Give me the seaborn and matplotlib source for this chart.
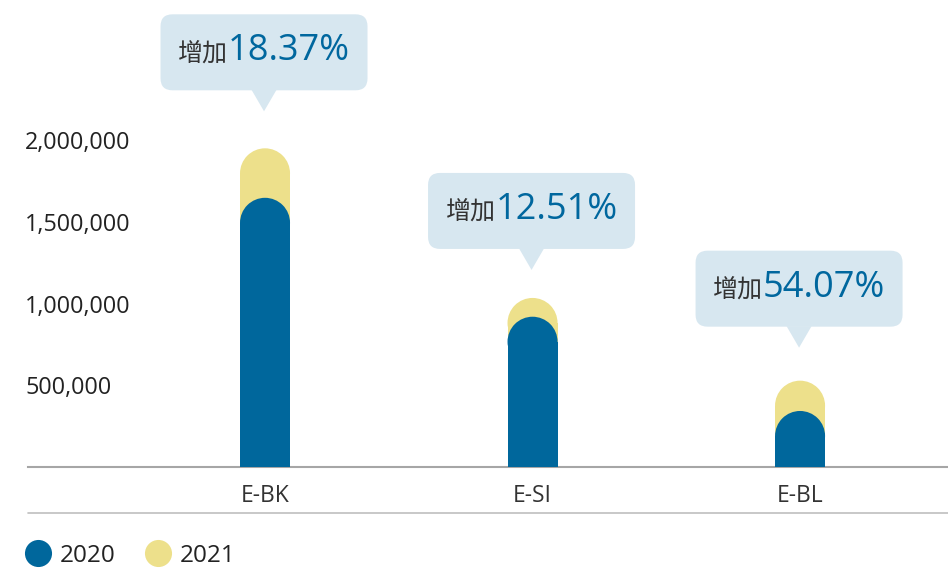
import matplotlib
matplotlib.use("Agg")
import matplotlib.pyplot as plt
import seaborn as sns
import pandas as pd
import numpy as np
from matplotlib.patches import Ellipse, FancyBboxPatch, Polygon
from matplotlib.lines import Line2D
from matplotlib.ticker import FuncFormatter

# ---- data ----
categories = ["E-BK", "E-SI", "E-BL"]
values_2020 = [1648000, 920000, 343000]
values_2021 = [1951000, 1035000, 528500]
increase_labels = ["18.37%", "12.51%", "54.07%"]
years = ["2020", "2021"]
yticks = [500000, 1000000, 1500000, 2000000]

# ---- style ----
BLUE = "#00679c"
YELLOW = "#ede08b"
BUBBLE = "#d7e7f0"
TXT = "#333333"
PCT = "#00679e"
LATIN = ["Open Sans", "DejaVu Sans"]
CJK = ["Noto Sans CJK SC", "DejaVu Sans"]

sns.set_theme(style="white")
plt.rcParams["font.family"] = ["Open Sans", "Noto Sans CJK SC", "DejaVu Sans"]

W, H = 948, 569
fig = plt.figure(figsize=(W / 100, H / 100), dpi=100)
ax = fig.add_axes([28 / W, 102 / H, 920 / W, 467 / H])

df = pd.DataFrame({
    "cat": categories * 2,
    "year": ["2021"] * 3 + ["2020"] * 3,
    "value": values_2021 + values_2020,
})
sns.barplot(data=df, x="cat", y="value", hue="year", hue_order=["2021", "2020"],
            palette={"2020": BLUE, "2021": YELLOW}, dodge=False, width=0.187,
            order=categories, ax=ax, legend=False, saturation=1, edgecolor="none",
            linewidth=0)

ax.set_xlim(-0.886, 2.553)
ax.set_ylim(0, 2859000)
ax.set_xlabel("")
ax.set_ylabel("")
for s in ["top", "right", "left"]:
    ax.spines[s].set_visible(False)
ax.spines["bottom"].set_color("#a6a6a6")
ax.spines["bottom"].set_linewidth(1.5)
ax.set_yticks(yticks)
ax.yaxis.set_major_formatter(FuncFormatter(lambda v, p: f"{int(v):,}"))
ax.tick_params(axis="y", length=0, pad=2.2, labelsize=16.8, labelcolor="#222222")
for lab in ax.get_yticklabels():
    lab.set_horizontalalignment("left")
    lab.set_fontfamily(LATIN)
ax.tick_params(axis="x", length=0, pad=12, labelsize=16.5, labelcolor=TXT)
for lab in ax.get_xticklabels():
    lab.set_fontfamily(LATIN)
ax.grid(False)

# ---- rounded tops: semicircle cap of radius = half bar width (in pixels) ----
fig.canvas.draw()
px_per_y = ax.transData.transform((0, 1e6))[1] - ax.transData.transform((0, 0))[1]
bars = list(ax.patches)
for p in bars:
    x0, w, h = p.get_x(), p.get_width(), p.get_height()
    w_px = ax.transData.transform((w, 0))[0] - ax.transData.transform((0, 0))[0]
    r_y = (w_px / 2) / px_per_y * 1e6
    p.set_height(h - r_y)
    e = Ellipse((x0 + w / 2, h - r_y), w, 2 * r_y, facecolor=p.get_facecolor(),
                edgecolor="none", zorder=p.get_zorder())
    ax.add_patch(e)
for art in ax.patches:
    fc = art.get_facecolor()
    if abs(fc[0] - matplotlib.colors.to_rgba(BLUE)[0]) < 0.02:
        art.set_zorder(3)
    else:
        art.set_zorder(2)

# ---- second divider line under labels ----
fig.add_artist(Line2D([28 / W, 1], [1 - 513 / H, 1 - 513 / H], color="#bfbfbf", lw=1.2))

# ---- bubbles ----
fig.canvas.draw()
renderer = fig.canvas.get_renderer()
tip_gaps = [37, 28, 33]
bw, bh, ptr, half = 207, 76, 21, 12.5
for i, (cat, v21, lab) in enumerate(zip(categories, values_2021, increase_labels)):
    tx, ty = ax.transData.transform((i, v21))
    tx = tx - 1
    ty = ty + tip_gaps[i]
    box = FancyBboxPatch((tx - bw / 2, ty + ptr), bw, bh,
                         boxstyle="round,pad=0,rounding_size=12",
                         facecolor=BUBBLE, edgecolor="none", transform=None)
    fig.add_artist(box)
    tri = Polygon([(tx - half, ty + ptr + 0.5), (tx + half, ty + ptr + 0.5), (tx, ty)],
                  closed=True, facecolor=BUBBLE, edgecolor="none", transform=None)
    fig.add_artist(tri)
    base_y = ty + 51
    t1 = fig.text(0, 0, "增加", fontsize=18, color=TXT, family=CJK, weight=300,
                  va="baseline", ha="left", transform=None)
    t2 = fig.text(0, 0, lab, fontsize=26, color=PCT, family=LATIN,
                  va="baseline", ha="left", transform=None)
    w1 = t1.get_window_extent(renderer).width
    w2 = t2.get_window_extent(renderer).width
    start = tx - (w1 + w2) / 2
    t1.set_position((start, base_y))
    t2.set_position((start + w1, base_y))

# ---- legend ----
handles = [Line2D([], [], marker="o", linestyle="none", markersize=19.5,
                  markerfacecolor=c, markeredgecolor="none") for c in (BLUE, YELLOW)]
leg = fig.legend(handles, years, loc="center left", bbox_to_anchor=(26 / W, 1 - 556 / H),
                 ncol=2, frameon=False, handlelength=1.0, handletextpad=0.4,
                 columnspacing=1.25, borderaxespad=0, borderpad=0, handleheight=0.7,
                 prop={"family": LATIN, "size": 17.5})
for t in leg.get_texts():
    t.set_color("#222222")

fig.savefig("out.png", dpi=100)
